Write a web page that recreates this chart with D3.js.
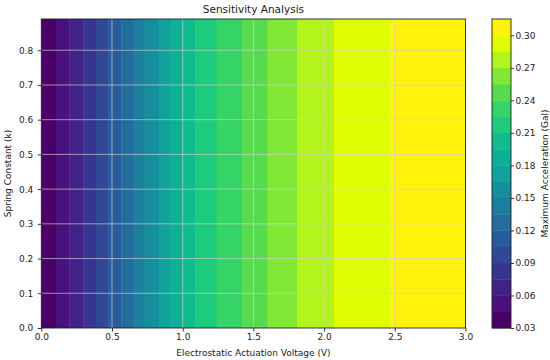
<!DOCTYPE html>
<html>
<head>
<meta charset="utf-8">
<script src="https://cdn.jsdelivr.net/npm/d3@7"></script>
<style>
  body { margin: 0; background: #fff; }
  text { font-family: "DejaVu Sans", sans-serif; fill: #222; }
</style>
</head>
<body>
<script>
// contour levels of the maximum acceleration (Gal)
var levels = [0.03, 0.045, 0.06, 0.075, 0.09, 0.105, 0.12, 0.135, 0.15, 0.165,
              0.18, 0.195, 0.21, 0.225, 0.24, 0.255, 0.27, 0.285, 0.30, 0.315];
var crossings = [0.104, 0.198, 0.297, 0.387, 0.475, 0.565, 0.652, 0.73, 0.83,
                 0.92, 1.0, 1.09, 1.24, 1.42, 1.60, 1.81, 2.07, 2.47];
var voltageRange = [0, 3];
var springRange = [0, 0.89];
var xTicks = [0, 0.5, 1.0, 1.5, 2.0, 2.5, 3.0];
var yTicks = [0, 0.1, 0.2, 0.3, 0.4, 0.5, 0.6, 0.7, 0.8];
var cbTicks = [0.03, 0.06, 0.09, 0.12, 0.15, 0.18, 0.21, 0.24, 0.27, 0.30];

var W = 550, H = 360;
var m = {left: 41.3, top: 19, right: 465.5, bottom: 328};

var svg = d3.select("body").append("svg").attr("width", W).attr("height", H);

var x = d3.scaleLinear().domain(voltageRange).range([m.left, m.right]);
var y = d3.scaleLinear().domain(springRange).range([m.bottom, m.top]);

var nb = levels.length - 1;
// viridis, a bit more saturated like the reference image
function bandColor(i) {
    var c = d3.hsl(d3.interpolateViridis((i + 0.5) / nb));
    c.s = Math.min(1, c.s * 1.3);
    return c.formatHex();
}

// bands: band i spans level[i]..level[i+1], from crossing i-1 to crossing i
var edges = [voltageRange[0]].concat(crossings, [voltageRange[1]]);
var bands = d3.range(nb).map(function(i) {
    return {i: i, x0: edges[i], x1: edges[i + 1]};
});

svg.append("g").selectAll("rect")
    .data(bands)
    .enter().append("rect")
    .attr("x", function(d) { return x(d.x0); })
    .attr("width", function(d) { return x(d.x1) - x(d.x0) + 0.4; })
    .attr("y", y(springRange[1]))
    .attr("height", y(springRange[0]) - y(springRange[1]))
    .attr("fill", function(d) { return bandColor(d.i); });

// grid
var grid = svg.append("g").attr("stroke", "#d0d0d0").attr("stroke-opacity", 0.75).attr("stroke-width", 0.9);
grid.selectAll(".gx").data(xTicks.slice(1, -1)).enter().append("line")
    .attr("x1", function(d) { return x(d); }).attr("x2", function(d) { return x(d); })
    .attr("y1", m.top).attr("y2", m.bottom);
grid.selectAll(".gy").data(yTicks.slice(1)).enter().append("line")
    .attr("x1", m.left).attr("x2", m.right)
    .attr("y1", function(d) { return y(d); }).attr("y2", function(d) { return y(d); });

// axes
var xAxis = svg.append("g").attr("transform", "translate(0," + m.bottom + ")")
    .call(d3.axisBottom(x).tickValues(xTicks).tickFormat(d3.format(".1f")).tickSizeOuter(0).tickSize(3.5).tickPadding(2.5));
var yAxis = svg.append("g").attr("transform", "translate(" + m.left + ",0)")
    .call(d3.axisLeft(y).tickValues(yTicks).tickFormat(d3.format(".1f")).tickSizeOuter(0).tickSize(3.5).tickPadding(4.5));
[xAxis, yAxis].forEach(function(a) {
    a.select(".domain").remove();
    a.selectAll("line").attr("stroke", "#333");
    a.selectAll("text").style("font-size", "9px").attr("fill", "#333");
});

svg.append("rect")
    .attr("x", m.left).attr("y", m.top)
    .attr("width", m.right - m.left).attr("height", m.bottom - m.top)
    .attr("fill", "none").attr("stroke", "#222").attr("stroke-width", 0.9);

svg.append("text").attr("x", (m.left + m.right) / 2).attr("y", 13)
    .attr("text-anchor", "middle").style("font-size", "10.5px")
    .text("Sensitivity Analysis");
svg.append("text").attr("x", (m.left + m.right) / 2).attr("y", 356)
    .attr("text-anchor", "middle").style("font-size", "9px")
    .text("Electrostatic Actuation Voltage (V)");
svg.append("text")
    .attr("transform", "translate(11," + (m.top + m.bottom) / 2 + ") rotate(-90)")
    .attr("text-anchor", "middle").style("font-size", "9px")
    .text("Spring Constant (k)");

// colorbar
var cb = {left: 492, right: 511};
var cy = d3.scaleLinear().domain([levels[0], levels[nb]]).range([m.bottom, m.top]);
svg.append("g").selectAll("rect")
    .data(d3.range(nb))
    .enter().append("rect")
    .attr("x", cb.left).attr("width", cb.right - cb.left)
    .attr("y", function(i) { return cy(levels[i + 1]); })
    .attr("height", function(i) { return cy(levels[i]) - cy(levels[i + 1]) + 0.4; })
    .attr("fill", function(i) { return bandColor(i); });
svg.append("rect")
    .attr("x", cb.left).attr("y", m.top)
    .attr("width", cb.right - cb.left).attr("height", m.bottom - m.top)
    .attr("fill", "none").attr("stroke", "#222").attr("stroke-width", 0.9);
var cAxis = svg.append("g").attr("transform", "translate(" + cb.right + ",0)")
    .call(d3.axisRight(cy).tickValues(cbTicks).tickFormat(d3.format(".2f")).tickSizeOuter(0).tickSize(3).tickPadding(1.5));
cAxis.select(".domain").remove();
cAxis.selectAll("line").attr("stroke", "#333");
cAxis.selectAll("text").style("font-size", "9px").attr("fill", "#333");
svg.append("text")
    .attr("transform", "translate(548," + (m.top + m.bottom) / 2 + ") rotate(-90)")
    .attr("text-anchor", "middle").style("font-size", "9px")
    .text("Maximum Acceleration (Gal)");
</script>
</body>
</html>
